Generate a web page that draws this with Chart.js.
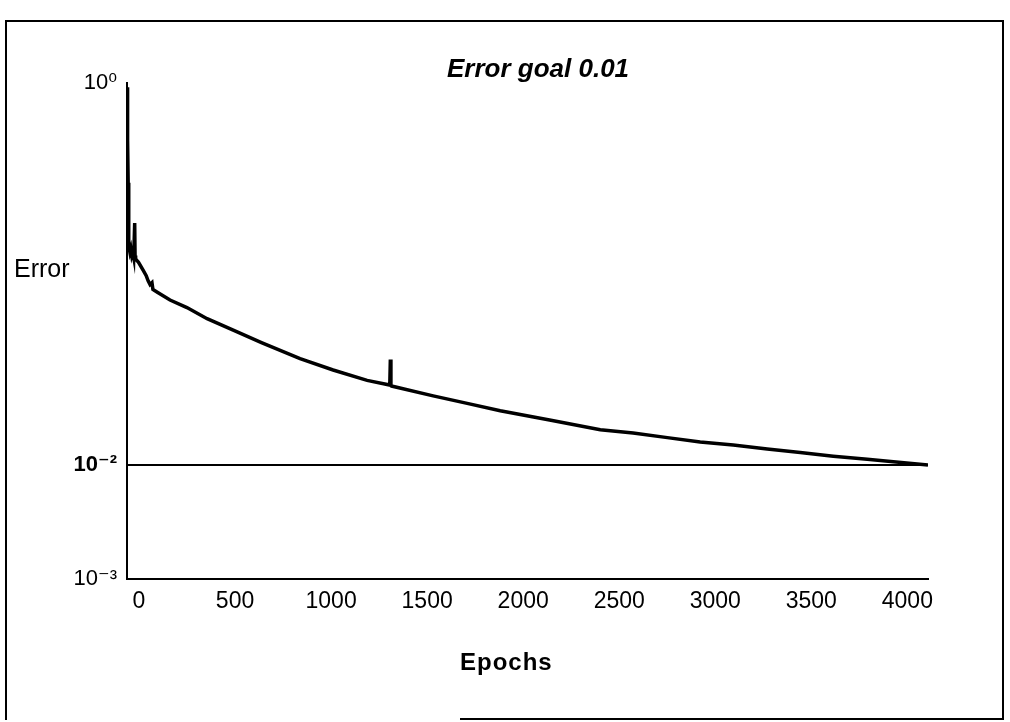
<!DOCTYPE html>
<html>
<head>
<meta charset="utf-8">
<script src="https://cdn.jsdelivr.net/npm/chart.js"></script>
<style>
  html, body { margin: 0; padding: 0; background: #fff; }
  #wrap { position: relative; width: 1010px; height: 722px; overflow: hidden; }
  canvas { position: absolute; left: 0; top: 0; }
  .ln { position: absolute; background: #000; }
  .txt { position: absolute; color: #000; white-space: nowrap; font-family: 'Liberation Sans', Arial, sans-serif; }
</style>
</head>
<body>
<div id="wrap">
  <canvas id="c" width="1010" height="722"></canvas>
  <div class="ln" style="left:5px;top:20px;width:999px;height:2px;"></div>
  <div class="ln" style="left:5px;top:20px;width:2px;height:700px;"></div>
  <div class="ln" style="left:1002px;top:20px;width:2px;height:700px;"></div>
  <div class="ln" style="left:460px;top:718px;width:544px;height:2px;"></div>
  <div class="txt" id="title" style="left:447px;top:53px;font-size:26px;font-weight:bold;font-style:italic;">Error goal 0.01</div>
  <div class="txt" id="ylab" style="left:14px;top:254px;font-size:25px;">Error</div>
  <div class="txt" id="xlab" style="left:460px;top:648px;font-size:24px;font-weight:bold;letter-spacing:1px;">Epochs</div>
</div>
<script>
// ---- data ----
const epochs = [0, 2, 4, 6, 8, 10, 15, 20, 25, 30, 35, 40, 42, 45, 50, 60, 83, 100, 110, 120, 130, 135, 160, 224, 312, 417, 550, 700, 901, 1073, 1250, 1368, 1371, 1374, 1377, 1594, 1771, 1943, 2200, 2464, 2635, 2813, 2984, 3156, 3333, 3505, 3677, 3854, 3990, 4170];
const errors = [0.95, 0.8, 0.5, 0.3, 0.19, 0.14, 0.13, 0.136, 0.125, 0.13, 0.122, 0.185, 0.125, 0.12, 0.118, 0.115, 0.105, 0.098, 0.092, 0.088, 0.09, 0.083, 0.08, 0.073, 0.0667, 0.0583, 0.0509, 0.0437, 0.036, 0.0314, 0.0277, 0.0262, 0.0356, 0.026, 0.0259, 0.023, 0.021, 0.0192, 0.0172, 0.0153, 0.0147, 0.0139, 0.0132, 0.0127, 0.0121, 0.0116, 0.0111, 0.0107, 0.0104, 0.0100];
const goalEpochs = [0, 4170];
const goalValues = [0.01, 0.01];
const xTicks = [0, 500, 1000, 1500, 2000, 2500, 3000, 3500, 4000];
const yTicks = [1, 0.01, 0.001];
const yTickLabels = ['10\u2070', '10\u207B\u00B2', '10\u207B\u00B3'];

// The reference's log axis has unequal decade lengths; reproduce with a piecewise log scale.
const yBreakLogs = [-3, -2, 0];
const yBreakFracs = [0, 0.23, 1];

function interp(v, xs, ys) {
  if (v <= xs[0]) return ys[0] + (v - xs[0]) * (ys[1] - ys[0]) / (xs[1] - xs[0]);
  for (let i = 1; i < xs.length; i++) {
    if (v <= xs[i] || i === xs.length - 1) {
      return ys[i - 1] + (v - xs[i - 1]) * (ys[i] - ys[i - 1]) / (xs[i] - xs[i - 1]);
    }
  }
}

class BrokenLogScale extends Chart.LogarithmicScale {
  static id = 'brokenLog';
  static defaults = Chart.LogarithmicScale.defaults;
  getPixelForValue(value) {
    if (value === undefined || value === 0) value = this.min;
    if (value === null || isNaN(value)) return NaN;
    return this.getPixelForDecimal(interp(Math.log10(value), yBreakLogs, yBreakFracs));
  }
  getValueForPixel(pixel) {
    const d = this.getDecimalForPixel(pixel);
    return Math.pow(10, interp(d, yBreakFracs, yBreakLogs));
  }
}
Chart.register(BrokenLogScale);

const curve = epochs.map((e, i) => ({ x: e, y: errors[i] }));
const goal = goalEpochs.map((e, i) => ({ x: e, y: goalValues[i] }));

new Chart(document.getElementById('c'), {
  type: 'line',
  data: {
    datasets: [
      { label: 'Error', data: curve, borderColor: '#000', borderWidth: 3.5, pointRadius: 0, tension: 0, fill: false },
      { label: 'Goal', data: goal, borderColor: '#000', borderWidth: 2, pointRadius: 0, tension: 0, fill: false }
    ]
  },
  options: {
    responsive: false,
    animation: false,
    layout: { padding: { left: 0, top: 83, right: 82, bottom: 0 } },
    plugins: { legend: { display: false }, tooltip: { enabled: false }, title: { display: false } },
    scales: {
      x: {
        type: 'linear',
        min: 0,
        max: 4170,
        grid: { display: false },
        border: { display: true, color: '#000', width: 2 },
        afterBuildTicks: s => { s.ticks = xTicks.map(v => ({ value: v })); },
        afterFit: s => { s.height = 143; },
        ticks: {
          autoSkip: false,
          maxRotation: 0,
          padding: 1,
          labelOffset: 12,
          color: '#000',
          font: { family: "'Liberation Sans', Arial, sans-serif", size: 23 },
          callback: v => String(v)
        }
      },
      y: {
        type: 'brokenLog',
        min: 0.001,
        max: 1,
        grid: { display: false },
        border: { display: true, color: '#000', width: 2 },
        afterBuildTicks: s => { s.ticks = yTicks.map(v => ({ value: v })); },
        afterFit: s => { s.width = 127; },
        ticks: {
          autoSkip: false,
          padding: 2,
          color: '#000',
          font: ctx => ({ family: "'Liberation Sans', 'DejaVu Sans', sans-serif", size: 22, weight: (ctx.tick && ctx.tick.value === 0.01) ? 'bold' : 'normal' }),
          callback: v => { const i = yTicks.indexOf(v); return i >= 0 ? yTickLabels[i] : ''; }
        }
      }
    }
  }
});
</script>
</body>
</html>
